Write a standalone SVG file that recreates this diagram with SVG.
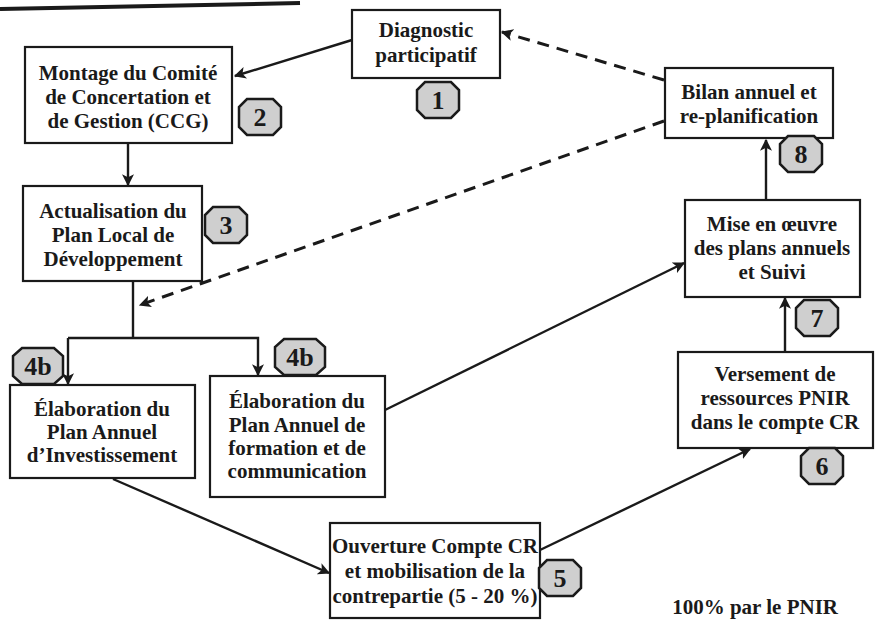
<svg xmlns="http://www.w3.org/2000/svg" width="875" height="620" viewBox="0 0 875 620">
<style>
.box{fill:#fff;stroke:#1a1a1a;stroke-width:2.2}
.t{font-family:'Liberation Serif','Times New Roman',serif;font-weight:bold;font-size:21px;fill:#1a1a1a;text-anchor:middle}
.bt{font-family:'Liberation Serif','Times New Roman',serif;font-weight:bold;font-size:26px;fill:#1a1a1a;text-anchor:middle}
.oct{fill:#cfcfcf;stroke:#1a1a1a;stroke-width:2.5}
.c{stroke:#1a1a1a;stroke-width:2.4;fill:none}
.d{stroke:#1a1a1a;stroke-width:3;fill:none;stroke-dasharray:12 8}
</style>
<defs>
<marker id="ah" viewBox="0 0 10 10" refX="9" refY="5" markerWidth="5" markerHeight="5" markerUnits="strokeWidth" orient="auto">
<path d="M0,0 L10,5 L0,10 L2.5,5 Z" fill="#1a1a1a"/>
</marker>
<marker id="ahd" viewBox="0 0 10 10" refX="9" refY="5" markerWidth="4" markerHeight="4" markerUnits="strokeWidth" orient="auto">
<path d="M0,0 L10,5 L0,10 L2.5,5 Z" fill="#1a1a1a"/>
</marker>
<polygon id="oct" points="-13,-18 13,-18 21,-10 21,10 13,18 -13,18 -21,10 -21,-10"/>
<polygon id="octw" points="-16,-18 16,-18 25,-10 25,10 16,18 -16,18 -25,10 -25,-10"/>
</defs>
<rect width="875" height="620" fill="#fff"/>
<line x1="0" y1="9" x2="300" y2="3" stroke="#1a1a1a" stroke-width="4"/>

<g id="connectors">
<line class="c" x1="352" y1="40" x2="235" y2="76" marker-end="url(#ah)"/>
<line class="c" x1="128" y1="143" x2="128" y2="185" marker-end="url(#ah)"/>
<polyline class="c" points="133,281 133,338"/>
<polyline class="c" points="68,338 258,338 258,375" marker-end="url(#ah)"/>
<line class="c" x1="68" y1="338" x2="68" y2="384" marker-end="url(#ah)"/>
<line class="c" x1="113" y1="479" x2="329" y2="573" marker-end="url(#ah)"/>
<line class="c" x1="385" y1="410" x2="684" y2="263" marker-end="url(#ah)"/>
<line class="c" x1="540" y1="550" x2="750" y2="449" marker-end="url(#ah)"/>
<line class="c" x1="785" y1="352" x2="785" y2="298" marker-end="url(#ah)"/>
<line class="c" x1="766" y1="200" x2="766" y2="140" marker-end="url(#ah)"/>
<line class="d" x1="664" y1="80" x2="502" y2="32" marker-end="url(#ahd)"/>
<line class="d" x1="664" y1="121" x2="140" y2="305" marker-end="url(#ahd)"/>
</g>

<g id="n1">
<rect class="box" x="352" y="10" width="148" height="68"/>
<text class="t" x="426" y="37">Diagnostic</text>
<text class="t" x="426" y="62">participatif</text>
<use href="#oct" class="oct" x="438" y="100"/>
<text class="bt" x="438" y="109">1</text>
</g>

<g id="n2">
<rect class="box" x="25" y="47" width="207" height="96"/>
<text class="t" x="128" y="80">Montage du Comité</text>
<text class="t" x="128" y="104">de Concertation et</text>
<text class="t" x="128" y="128">de Gestion (CCG)</text>
<use href="#oct" class="oct" x="260" y="117"/>
<text class="bt" x="260" y="126">2</text>
</g>

<g id="n3">
<rect class="box" x="23" y="186" width="179" height="95"/>
<text class="t" x="113" y="218">Actualisation du</text>
<text class="t" x="113" y="242">Plan Local de</text>
<text class="t" x="113" y="266">Développement</text>
<use href="#oct" class="oct" x="226" y="225"/>
<text class="bt" x="226" y="234">3</text>
</g>

<g id="n4a">
<rect class="box" x="10" y="385" width="185" height="93"/>
<text class="t" x="102" y="416">Élaboration du</text>
<text class="t" x="102" y="439">Plan Annuel</text>
<text class="t" x="102" y="462">d’Investissement</text>
<use href="#octw" class="oct" x="38" y="366"/>
<text class="bt" x="38" y="375">4b</text>
</g>

<g id="n4b">
<rect class="box" x="210" y="376" width="175" height="121"/>
<text class="t" x="297" y="408">Élaboration du</text>
<text class="t" x="297" y="432">Plan Annuel de</text>
<text class="t" x="297" y="455">formation et de</text>
<text class="t" x="297" y="478">communication</text>
<use href="#octw" class="oct" x="300" y="357"/>
<text class="bt" x="300" y="366">4b</text>
</g>

<g id="n5">
<rect class="box" x="330" y="523" width="210" height="95"/>
<text class="t" x="435" y="553">Ouverture Compte CR</text>
<text class="t" x="435" y="578">et mobilisation de la</text>
<text class="t" x="435" y="603">contrepartie (5 - 20 %)</text>
<use href="#oct" class="oct" x="560" y="578"/>
<text class="bt" x="560" y="587">5</text>
</g>

<g id="n6">
<rect class="box" x="678" y="352" width="195" height="96"/>
<text class="t" x="775" y="381">Versement de</text>
<text class="t" x="775" y="405">ressources PNIR</text>
<text class="t" x="775" y="429">dans le compte CR</text>
<use href="#oct" class="oct" x="822" y="466"/>
<text class="bt" x="822" y="475">6</text>
</g>

<g id="n7">
<rect class="box" x="685" y="200" width="175" height="97"/>
<text class="t" x="772" y="231">Mise en œuvre</text>
<text class="t" x="772" y="255">des plans annuels</text>
<text class="t" x="772" y="279">et Suivi</text>
<use href="#oct" class="oct" x="817" y="318"/>
<text class="bt" x="817" y="327">7</text>
</g>

<g id="n8">
<rect class="box" x="665" y="68" width="168" height="70"/>
<text class="t" x="749" y="99">Bilan annuel et</text>
<text class="t" x="749" y="123">re-planification</text>
<use href="#oct" class="oct" x="801" y="154"/>
<text class="bt" x="801" y="163">8</text>
</g>

<text class="t" x="838" y="614" style="text-anchor:end">100% par le PNIR</text>
</svg>
